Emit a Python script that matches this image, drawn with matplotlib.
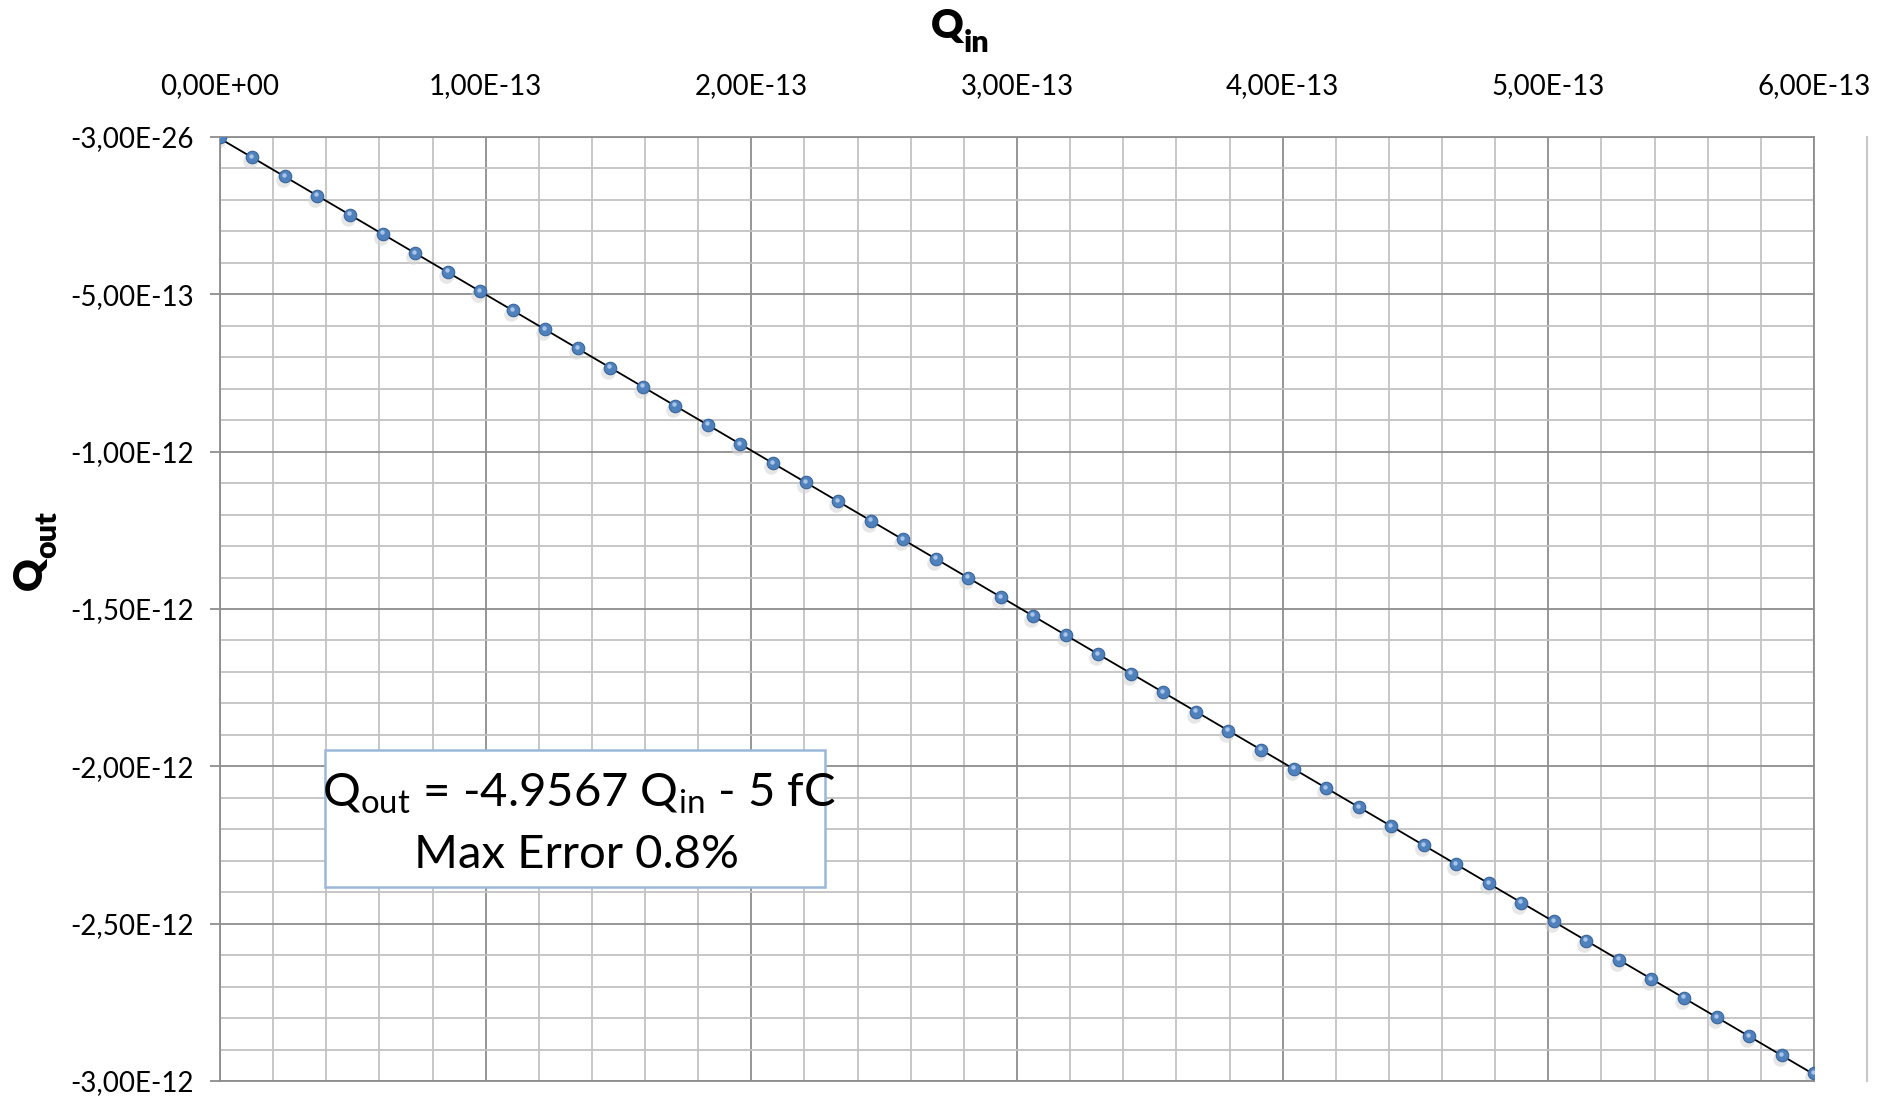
import matplotlib
matplotlib.use("Agg")
import matplotlib.pyplot as plt
from matplotlib.lines import Line2D
from matplotlib.patches import Rectangle
from matplotlib.transforms import ScaledTranslation
import numpy as np

plt.rcParams["font.family"] = ["Lato", "DejaVu Sans"]
plt.rcParams["mathtext.fontset"] = "custom"
plt.rcParams["mathtext.rm"] = "Lato"
plt.rcParams["mathtext.it"] = "Lato:italic"
plt.rcParams["mathtext.bf"] = "Lato:bold"

# Input charge (fC) and measured output charge (fC)
q_in_fc = [0.0, 12.2, 24.5, 36.7, 49.0, 61.2, 73.5, 85.7, 98.0, 110.2,
           122.4, 134.7, 146.9, 159.2, 171.4, 183.7, 195.9, 208.2, 220.4, 232.7,
           244.9, 257.1, 269.4, 281.6, 293.9, 306.1, 318.4, 330.6, 342.9, 355.1,
           367.3, 379.6, 391.8, 404.1, 416.3, 428.6, 440.8, 453.1, 465.3, 477.6,
           489.8, 502.0, 514.3, 526.5, 538.8, 551.0, 563.3, 575.5, 587.8, 600.0]
q_out_fc = [0.0, -64.0, -125.5, -186.0, -247.0, -308.0, -369.0, -429.0, -490.0, -551.0,
            -611.0, -672.0, -733.0, -794.0, -854.0, -915.0, -976.0, -1037.0, -1097.0, -1158.0,
            -1219.0, -1279.0, -1340.0, -1401.0, -1462.0, -1522.0, -1583.0, -1644.0, -1705.0, -1765.0,
            -1826.0, -1887.0, -1947.0, -2008.0, -2069.0, -2130.0, -2190.0, -2251.0, -2311.0, -2372.0,
            -2433.0, -2493.0, -2554.0, -2615.0, -2676.0, -2736.0, -2797.0, -2858.0, -2918.0, -2976.0]

# Linear fit reported on the chart
fit_slope = -4.9567
fit_offset_fc = -5.0

x_ticks = [0.0, 1e-13, 2e-13, 3e-13, 4e-13, 5e-13, 6e-13]
x_labels = ["0,00E+00", "1,00E-13", "2,00E-13", "3,00E-13", "4,00E-13", "5,00E-13", "6,00E-13"]
y_ticks = [-3e-26, -5e-13, -1e-12, -1.5e-12, -2e-12, -2.5e-12, -3e-12]
y_labels = ["-3,00E-26", "-5,00E-13", "-1,00E-12", "-1,50E-12", "-2,00E-12", "-2,50E-12", "-3,00E-12"]

W, H = 1885, 1096
fig = plt.figure(figsize=(W / 100, H / 100), dpi=100)
ax = fig.add_axes([220 / W, 1 - 1081 / H, (1814 - 220) / W, (1081 - 137) / H])

q_in = np.array(q_in_fc) * 1e-15
q_out = np.array(q_out_fc) * 1e-15

ax.set_xlim(0, 6e-13)
ax.set_ylim(-3e-12, -3e-26)

# grid: minor every 2e-14 (x) and 1e-13 (y), major at labelled ticks
minor_col = "#c3c3c3"
major_col = "#8e8e8e"
ax.set_xticks(x_ticks)
ax.set_xticklabels(x_labels)
ax.set_yticks(y_ticks)
ax.set_yticklabels(y_labels)
ax.set_xticks(np.arange(0, 6e-13 + 1e-15, 2e-14), minor=True)
ax.set_yticks(np.arange(-3e-12, 1e-15, 1e-13), minor=True)
ax.grid(which="minor", color=minor_col, lw=1.3, zorder=0)
ax.grid(which="major", color=major_col, lw=1.3, zorder=0)
ax.set_axisbelow(True)

ax.xaxis.tick_top()
ax.tick_params(axis="x", which="both", length=0, pad=27, labelsize=20, colors="black")
ax.tick_params(axis="y", which="major", length=7, width=1.3, color=major_col,
               pad=12, labelsize=20)
ax.tick_params(axis="y", which="minor", length=0)

for side, sp in ax.spines.items():
    sp.set_color(major_col)
    sp.set_linewidth(1.3)

# trendline from the fitted equation
xl = np.array([0.0, 6e-13])
ax.plot(xl, fit_slope * xl + fit_offset_fc * 1e-15, color="black", lw=1.3, zorder=3)

# soft shadows, marker bodies and highlights
ax.plot(q_in, q_out, ls="none", marker="o", ms=10.5, mfc="#d4d4d4", mec="none",
        alpha=0.55, zorder=2,
        transform=ax.transData + ScaledTranslation(-2 / 100, -4 / 100, fig.dpi_scale_trans))
ax.plot(q_in, q_out, ls="none", marker="o", ms=9, mfc="#4f81bd", mec="#3a659b",
        mew=0.8, zorder=4)
ax.plot(q_in, q_out, ls="none", marker="o", ms=3.2, mfc="#a9c4e6", mec="none",
        zorder=5,
        transform=ax.transData + ScaledTranslation(-1 / 100, 1.5 / 100, fig.dpi_scale_trans))

# axis titles with large, low subscripts
title_kw = dict(fontweight="heavy", color="black")
fig.text(931 / W, 1 - 38 / H, "Q", ha="left", va="baseline", fontsize=29, **title_kw)
fig.text(964 / W, 1 - 52 / H, "in", ha="left", va="baseline", fontsize=22, **title_kw)
fig.text(42 / W, 1 - 590 / H, "Q", ha="left", va="baseline", fontsize=29,
         rotation=90, rotation_mode="anchor", **title_kw)
fig.text(56 / W, 1 - 558 / H, "out", ha="left", va="baseline", fontsize=22,
         rotation=90, rotation_mode="anchor", **title_kw)

# equation box
fig.patches.append(Rectangle((325 / W, 1 - 887 / H), 500 / W, 137 / H,
                             transform=fig.transFigure, facecolor="white",
                             edgecolor="#9bb7da", lw=1.8, zorder=10))
fig.text(579 / W, 1 - 807 / H, r"Q$_{\mathrm{out}}$ = -4.9567 Q$_{\mathrm{in}}$ - 5 fC",
         ha="center", va="baseline", fontsize=34, zorder=11)
fig.text(577 / W, 1 - 868 / H, "Max Error 0.8%", ha="center", va="baseline",
         fontsize=34, zorder=11)

# thin separator line at the right edge
fig.add_artist(Line2D([1867 / W, 1867 / W], [1 - 137 / H, 1 - 1081 / H],
                      transform=fig.transFigure, color="#c8c8c8", lw=1.5))

fig.savefig("out.png", dpi=100, facecolor="white")
